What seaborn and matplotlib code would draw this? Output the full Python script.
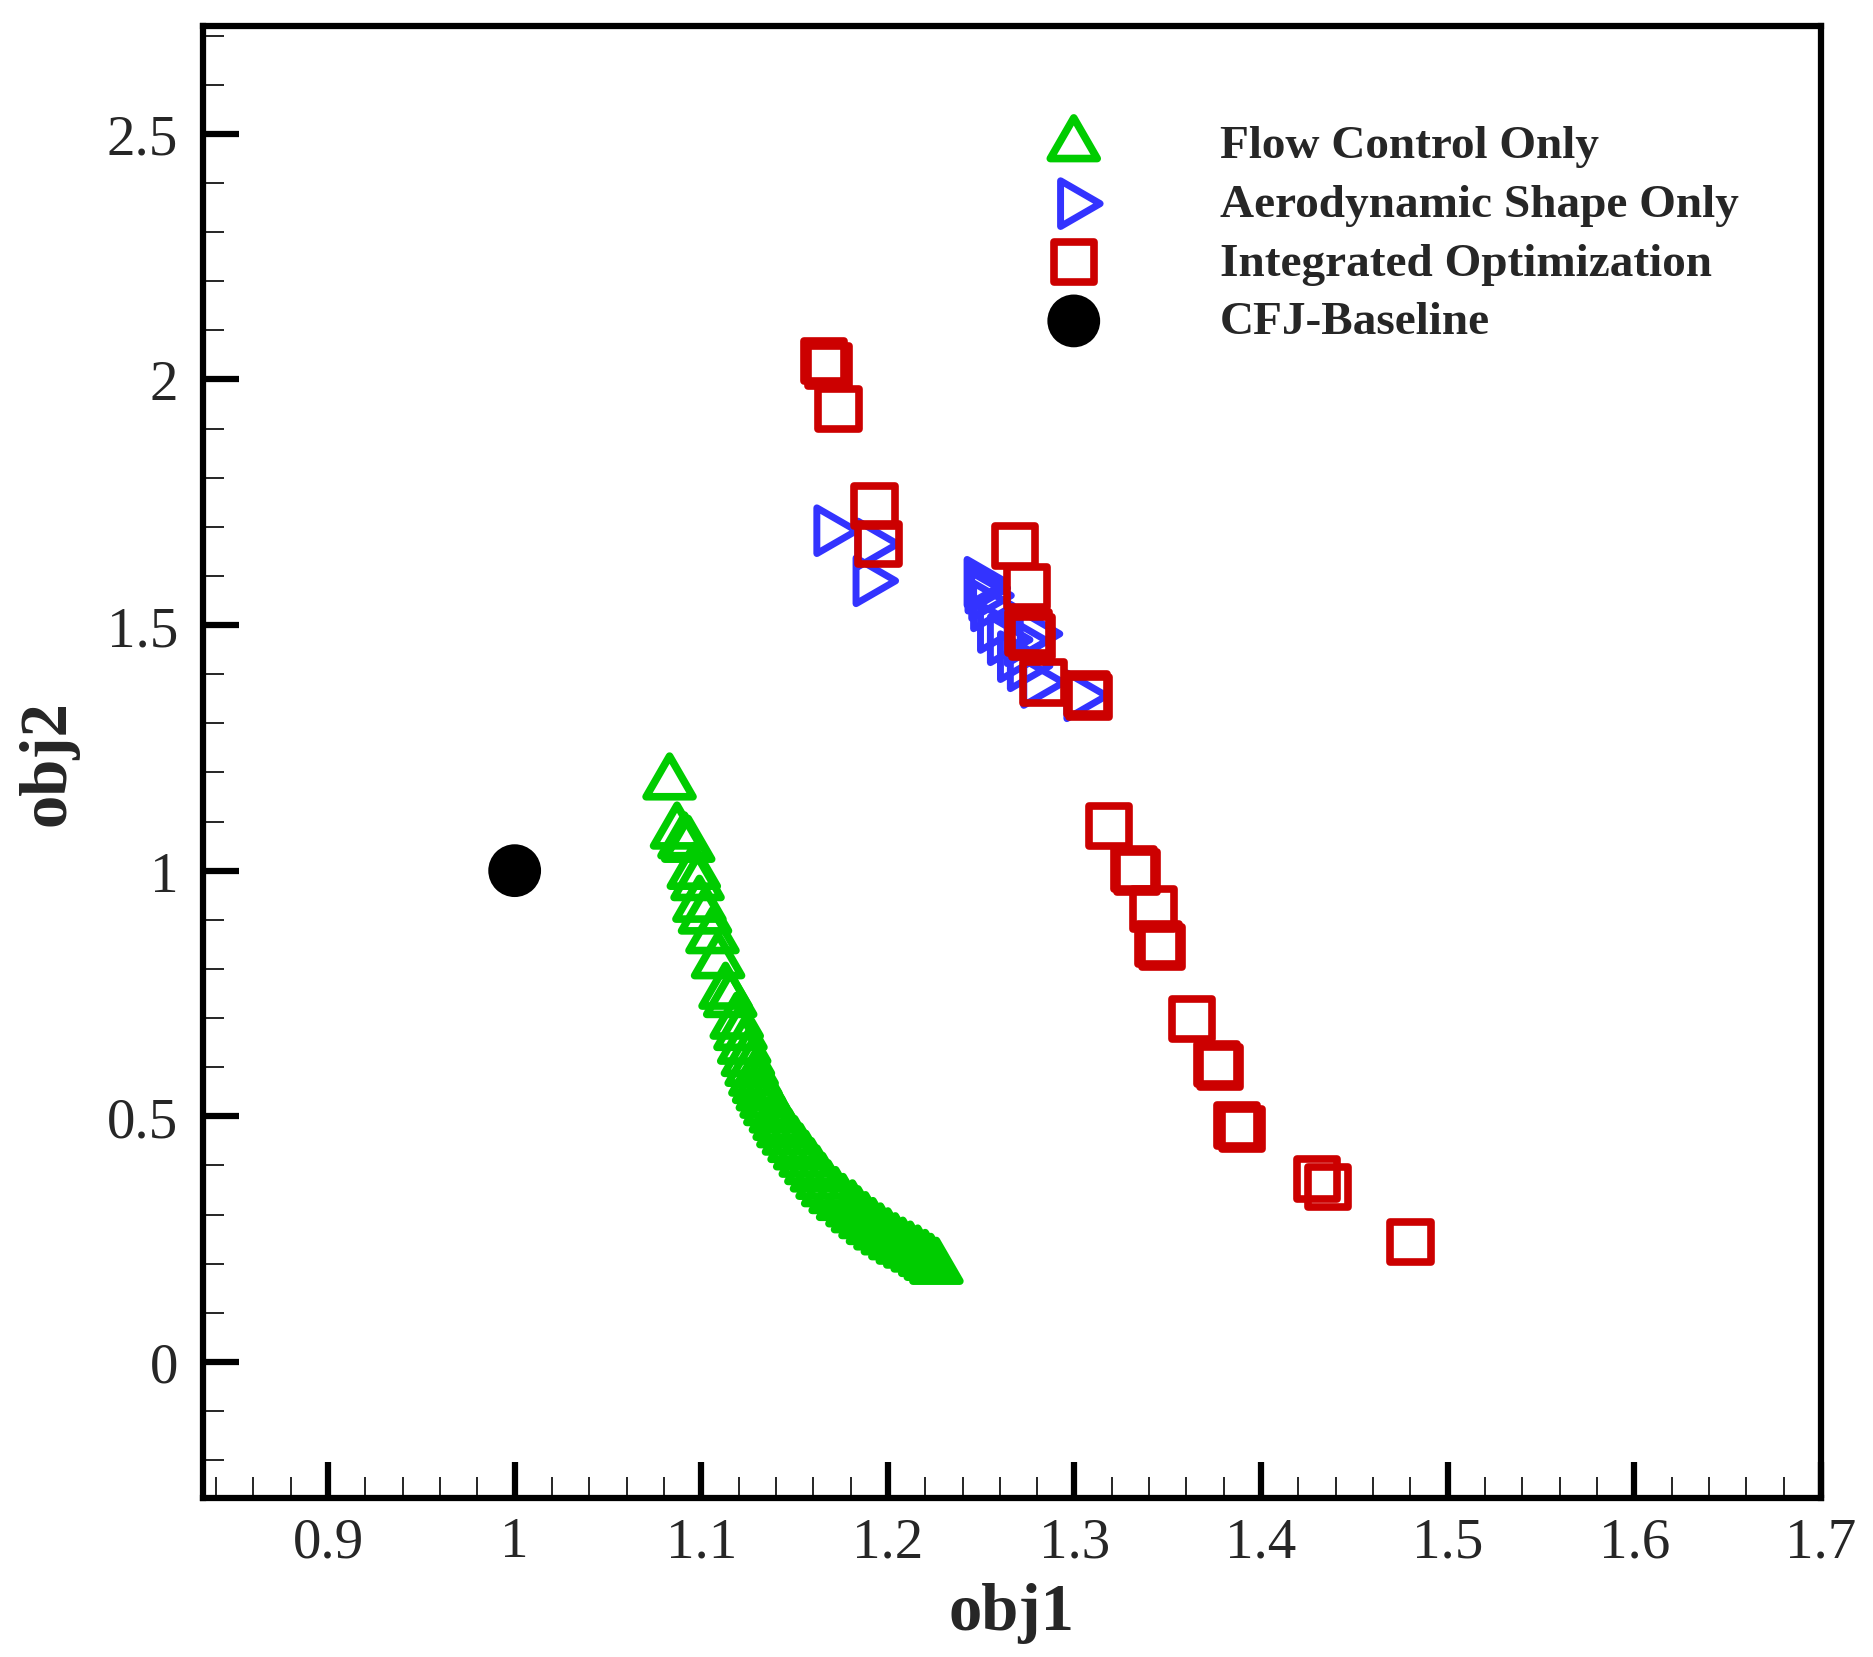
import matplotlib
matplotlib.use("Agg")
import matplotlib.pyplot as plt
from matplotlib.ticker import MultipleLocator, FuncFormatter
import seaborn as sns

# Flow Control Only (green up-triangles)
flow_x = [1.083, 1.087, 1.091, 1.093, 1.096, 1.098, 1.099, 1.102, 1.106, 1.109,
          1.113, 1.1155, 1.119, 1.121, 1.123, 1.125, 1.127, 1.129, 1.131, 1.133,
          1.135, 1.137, 1.140, 1.142, 1.144, 1.147, 1.150, 1.153, 1.156, 1.159,
          1.162, 1.165, 1.168, 1.172, 1.176, 1.181, 1.184, 1.188, 1.192, 1.196,
          1.200, 1.204, 1.208, 1.212, 1.216, 1.220, 1.223, 1.226]
flow_y = [1.178, 1.078, 1.058, 1.051, 0.996, 0.973, 0.929, 0.905, 0.865, 0.814,
          0.752, 0.735, 0.691, 0.668, 0.640, 0.615, 0.595, 0.575, 0.560, 0.545,
          0.530, 0.515, 0.500, 0.485, 0.470, 0.455, 0.440, 0.425, 0.410, 0.395,
          0.380, 0.365, 0.350, 0.336, 0.322, 0.309, 0.297, 0.285, 0.273, 0.262,
          0.252, 0.242, 0.233, 0.225, 0.217, 0.208, 0.200, 0.192]

# Aerodynamic Shape Only (blue right-triangles)
shape_x = [1.169, 1.191, 1.190, 1.2495, 1.250, 1.252, 1.253, 1.2567, 1.262,
           1.271, 1.2674, 1.2727, 1.278, 1.2799, 1.303]
shape_y = [1.692, 1.665, 1.590, 1.587, 1.575, 1.560, 1.539, 1.495, 1.470,
           1.468, 1.4356, 1.417, 1.482, 1.383, 1.356]

# Integrated Optimization (red squares)
integ_x = [1.1657, 1.1682, 1.1736, 1.1929, 1.195, 1.2683, 1.2745, 1.2754, 1.2772,
           1.2834, 1.3076, 1.3067, 1.3185, 1.3317, 1.3335, 1.3424, 1.345, 1.347,
           1.363, 1.3764, 1.378, 1.387, 1.3898, 1.430, 1.436, 1.480]
integ_y = [2.038, 2.028, 1.940, 1.743, 1.665, 1.6615, 1.577, 1.485, 1.475,
           1.383, 1.353, 1.360, 1.0916, 1.0035, 0.9967, 0.922, 0.851, 0.844,
           0.698, 0.6066, 0.600, 0.481, 0.474, 0.3725, 0.3556, 0.2436]

# CFJ-Baseline (black dot)
base_x = [1.0]
base_y = [1.0]

labels = ["Flow Control Only", "Aerodynamic Shape Only",
          "Integrated Optimization", "CFJ-Baseline"]

GREEN = "#00cc00"
BLUE = "#3333ff"
RED = "#cc0000"

sns.set_style("ticks")
plt.rcParams["font.family"] = ["Liberation Serif", "DejaVu Serif"]

fig = plt.figure(figsize=(18.73, 16.58), dpi=100)
ax = fig.add_axes([0.1084, 0.0959, 0.8638, 0.888])

tri_up = (3, 0, 0)
tri_right = (3, 0, 270)

sns.scatterplot(x=flow_x, y=flow_y, ax=ax, marker=tri_up, s=39 ** 2,
                color=GREEN, facecolor="none", edgecolor=GREEN, linewidth=5.5,
                label=labels[0], legend=False, zorder=3)
sns.scatterplot(x=shape_x, y=shape_y, ax=ax, marker=tri_right, s=38 ** 2,
                color=BLUE, facecolor="none", edgecolor=BLUE, linewidth=5,
                label=labels[1], legend=False, zorder=3)
sns.scatterplot(x=integ_x, y=integ_y, ax=ax, marker="s", s=29 ** 2,
                color=RED, facecolor="none", edgecolor=RED, linewidth=5.5,
                label=labels[2], legend=False, zorder=4)
sns.scatterplot(x=base_x, y=base_y, ax=ax, marker="o", s=38 ** 2,
                color="black", edgecolor="none", linewidth=0,
                label=labels[3], legend=False, zorder=4)

ax.set_xlim(0.833, 1.7)
ax.set_ylim(-0.277, 2.72)
ax.xaxis.set_major_locator(MultipleLocator(0.1))
ax.xaxis.set_minor_locator(MultipleLocator(0.02))
ax.yaxis.set_major_locator(MultipleLocator(0.5))
ax.yaxis.set_minor_locator(MultipleLocator(0.1))
fmt = FuncFormatter(lambda v, pos: f"{round(v, 2):g}")
ax.xaxis.set_major_formatter(fmt)
ax.yaxis.set_major_formatter(fmt)

ax.tick_params(which="major", direction="in", length=26, width=4.5,
               labelsize=41, top=False, right=False, color="black")
ax.tick_params(axis="x", which="major", pad=13)
ax.tick_params(axis="y", which="major", pad=18)
ax.tick_params(which="minor", direction="in", length=15, width=1.2,
               top=False, right=False, color="black")
for sp in ax.spines.values():
    sp.set_linewidth(4.5)
    sp.set_color("black")
    sp.set_visible(True)

ax.set_xlabel("obj1", fontsize=48, fontweight="bold", labelpad=10)
ax.set_ylabel("obj2", fontsize=48, fontweight="bold", labelpad=20)

handles, hl = ax.get_legend_handles_labels()
ax.legend(handles=handles, labels=hl, loc="upper left",
          bbox_to_anchor=(0.509, 0.933), frameon=False,
          prop={"weight": "bold", "size": 34},
          handlelength=2.0, handletextpad=2.1, labelspacing=0.33,
          borderpad=0, borderaxespad=0)

fig.savefig("out.png", dpi=100)
